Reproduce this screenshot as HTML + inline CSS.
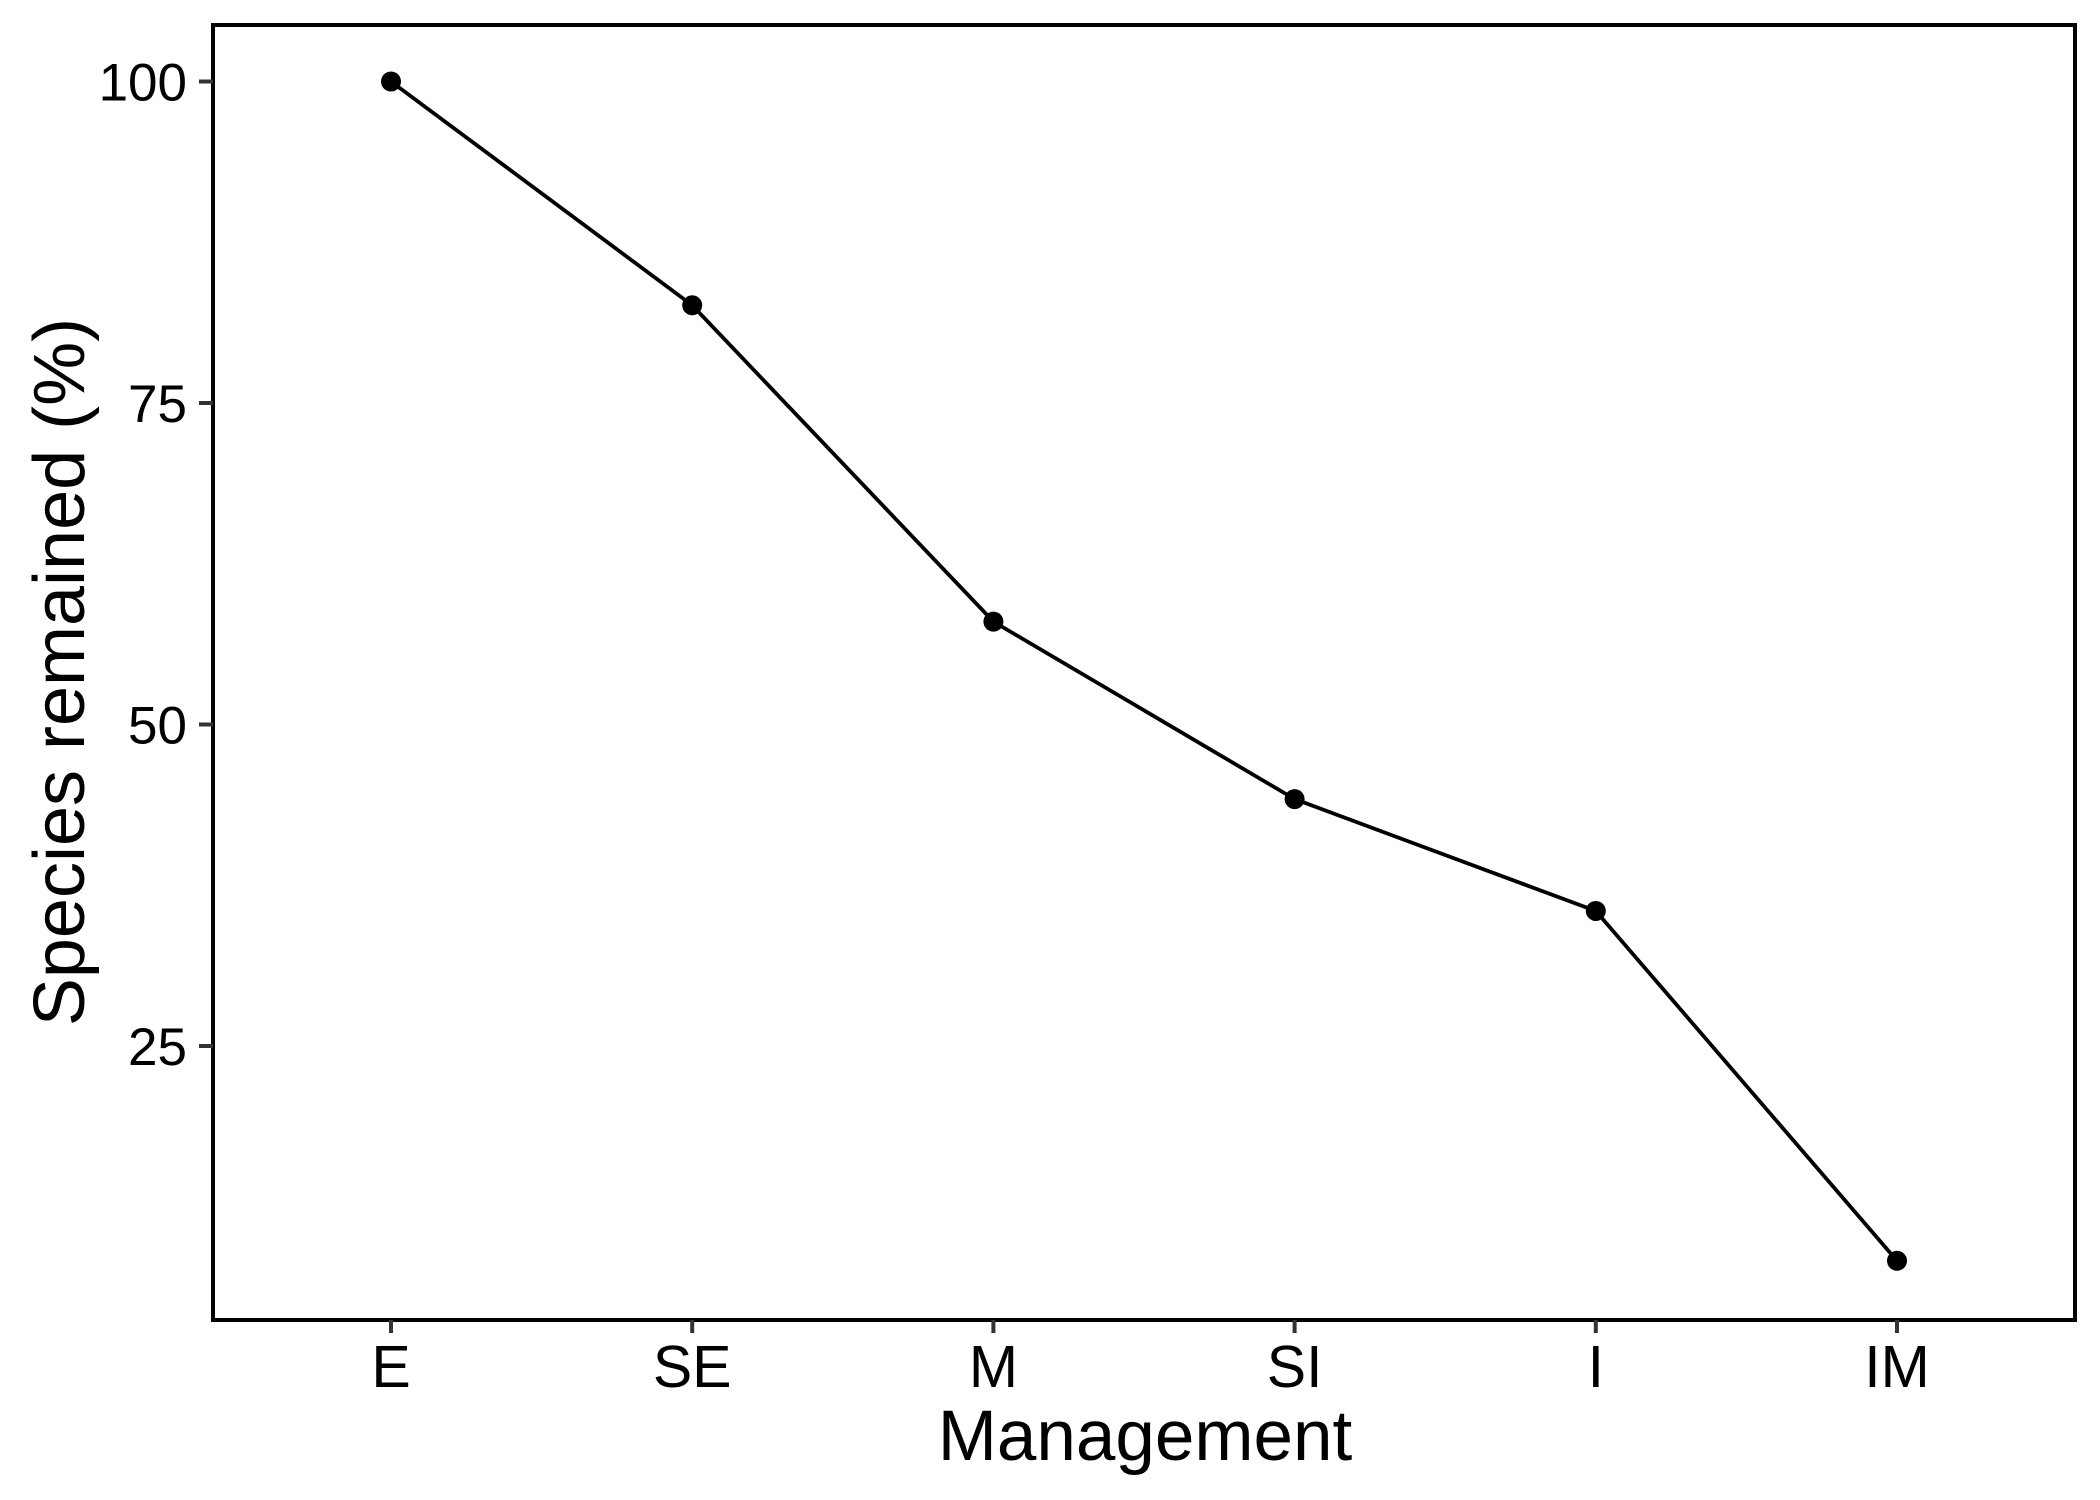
<!DOCTYPE html>
<html><head><meta charset="utf-8"><style>body{margin:0;background:#fff}svg{display:block}</style></head>
<body>
<svg id="chart" width="2100" height="1500" xmlns="http://www.w3.org/2000/svg" font-family="Liberation Sans, Arial, sans-serif">
<rect x="0" y="0" width="2100" height="1500" fill="#fff"/>
<g id="marks"></g>
<rect x="213" y="25" width="1862" height="1295" fill="none" stroke="#000" stroke-width="4"/>
<g id="axes"></g>
<text x="1145" y="1460" font-size="71" text-anchor="middle">Management</text>
<text transform="translate(84,672) rotate(-90)" font-size="72" text-anchor="middle">Species remained (%)</text>
</svg>
<script>
const categories = ["E","SE","M","SI","I","IM"];
const values = [100, 82.6, 58.0, 44.2, 35.5, 8.3];
const yTicks = [25, 50, 75, 100];
const NS = "http://www.w3.org/2000/svg";
const xScale = i => 391 + i * 301.2;
const yScale = v => 81.5 + (100 - v) * 12.86;
const marks = document.getElementById('marks');
const axes = document.getElementById('axes');
function mk(tag, attrs, parent){const e=document.createElementNS(NS,tag);for(const k in attrs)e.setAttribute(k,attrs[k]);parent.appendChild(e);return e;}
const line = mk('polyline',{points:values.map((v,i)=>xScale(i)+','+yScale(v)).join(' '),fill:'none',stroke:'#000','stroke-width':3.8},marks);


values.forEach((v,i)=>{
  const c = mk('circle',{cx:xScale(i),cy:yScale(v),r:10,fill:'#000'},marks);
  
  
});
yTicks.forEach(t=>{
  const y = yScale(t);
  const tk = mk('line',{x1:199,x2:213,y1:y,y2:y,stroke:'#333','stroke-width':4},axes);
  
  
  const tx = mk('text',{x:187,y:y+19,'font-size':53,'text-anchor':'end',fill:'#000'},axes);
  tx.textContent = t;
  
  
});
categories.forEach((c,i)=>{
  const x = xScale(i);
  const tk = mk('line',{x1:x,x2:x,y1:1320,y2:1333,stroke:'#333','stroke-width':4},axes);
  
  
  const tx = mk('text',{x:x,y:1387,'font-size':59,'text-anchor':'middle',fill:'#000'},axes);
  tx.textContent = c;
  
  
});
</script>
</body></html>
